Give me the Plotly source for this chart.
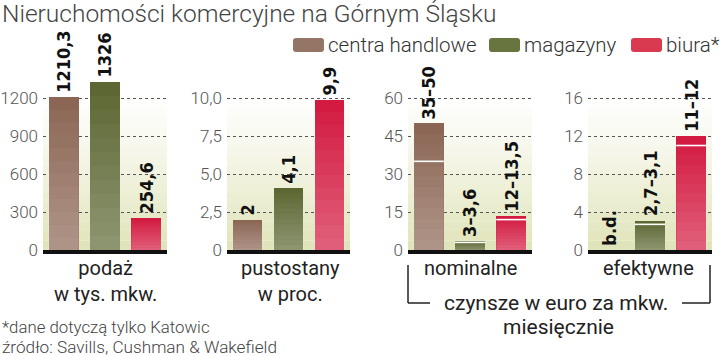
import plotly.graph_objects as go

W, H = 720, 356

# ---------------- data ----------------
series = ["centra handlowe", "magazyny", "biura*"]
series_colors = ["#8b6553", "#5b6631", "#d3183f"]
legend_colors = ["#957565", "#68753f", "#d93a50"]

supply = [1210.3, 1326, 254.6]
supply_labels = ["1210,3", "1326", "254,6"]

vacancy = [2, 4.1, 9.9]
vacancy_labels = ["2", "4,1", "9,9"]

nominal_low = [35, 3, 12]
nominal_high = [50, 3.6, 13.5]
nominal_labels = ["35–50", "3–3,6", "12–13,5"]

effective_low = [None, 2.7, 11]
effective_high = [None, 3.1, 12]
effective_labels = ["b.d.", "2,7–3,1", "11–12"]

panel_titles = ["podaż<br>w tys. mkw.", "pustostany<br>w proc.", "nominalne", "efektywne"]
rent_caption = "czynsze w euro za mkw."
rent_caption2 = "miesięcznie"

ticks1 = [0, 300, 600, 900, 1200]
ticks1_text = ["0", "300", "600", "900", "1200"]
ticks2 = [0, 2.5, 5, 7.5, 10]
ticks2_text = ["0", "2,5", "5,0", "7,5", "10,0"]
ticks3 = [0, 15, 30, 45, 60]
ticks3_text = ["0", "15", "30", "45", "60"]
ticks4 = [0, 4, 8, 12, 16]
ticks4_text = ["0", "4", "8", "12", "16"]

title = "Nieruchomości komercyjne na Górnym Śląsku"
footnote = "*dane dotyczą tylko Katowic"
source = "źródło: Savills, Cushman & Wakefield"

# ---------------- helpers ----------------
def px(x):
    return x / W

def py(y):
    return 1 - y / H

FONT = "Roboto"
BOLD = "DejaVu Sans Condensed, DejaVu Sans"

xdomains = [(43, 167), (227, 350), (408, 532), (588, 712)]
ydom = [py(250), py(60)]
yranges = [1500, 12.5, 75, 20]
tick_sets = [(ticks1, ticks1_text), (ticks2, ticks2_text), (ticks3, ticks3_text), (ticks4, ticks4_text)]
BARW = 0.73

fig = go.Figure()
pos = list(range(len(series)))

panels = [
    (supply, None, supply_labels),
    (vacancy, None, vacancy_labels),
    (nominal_high, nominal_low, nominal_labels),
    (effective_high, effective_low, effective_labels),
]

annotations = []
shapes = []

for k, (high, low, labels) in enumerate(panels):
    ax = "" if k == 0 else str(k + 1)
    xa, ya = "x" + ax, "y" + ax
    vals = [v if v is not None else 0 for v in high]
    fig.add_trace(go.Bar(
        x=pos, y=vals, width=BARW, marker=dict(color=series_colors, line=dict(width=0)),
        xaxis=xa, yaxis=ya, showlegend=False, hoverinfo="skip"))
    # subtle vertical sheen on each bar (lighter towards the base)
    nseg = 12
    for i, v in enumerate(vals):
        if v <= 0:
            continue
        for s in range(nseg):
            shapes.append(dict(type="rect", xref=xa, yref=ya,
                               x0=i - BARW / 2, x1=i + BARW / 2,
                               y0=v * s / nseg, y1=v * (s + 1) / nseg,
                               fillcolor="white", opacity=0.32 * (1 - (s + 0.5) / nseg),
                               line=dict(width=0), layer="above"))
    if low is not None:
        lx, ly = [], []
        for i, v in enumerate(low):
            if v is None:
                continue
            lx += [i - BARW / 2, i + BARW / 2, None]
            ly += [v, v, None]
        fig.add_trace(go.Scatter(x=lx, y=ly, mode="lines", line=dict(color="white", width=1.6),
                                 xaxis=xa, yaxis=ya, showlegend=False, hoverinfo="skip"))
    for i, (v, t) in enumerate(zip(vals, labels)):
        annotations.append(dict(
            x=i, y=v, xref=xa, yref=ya, text=t, textangle=-90, showarrow=False,
            xanchor="center", yanchor="bottom", yshift=2,
            font=dict(family=BOLD, size=18, color="#111", weight="bold")))

    tv, tt = tick_sets[k]
    fig.update_layout(**{
        "xaxis" + ax: dict(domain=[px(xdomains[k][0]), px(xdomains[k][1])], range=[-0.5, 2.5],
                           anchor=ya, showticklabels=False, showgrid=False, zeroline=False,
                           showline=True, linecolor="#111", linewidth=4, fixedrange=True,
                           automargin=False),
        "yaxis" + ax: dict(domain=ydom, range=[0, yranges[k]], anchor=xa,
                           tickvals=tv, ticktext=tt, showgrid=True, gridcolor="#555",
                           griddash="3px,3px", gridwidth=1.2, zeroline=False, showline=False,
                           ticklabelstandoff=4, automargin=False,
                           tickfont=dict(family=FONT, size=17, color="#555", weight=300),
                           fixedrange=True),
    })
    # background gradient
    nb = 16
    for b in range(nb):
        shapes.append(dict(type="rect", xref=xa + " domain", yref=ya + " domain",
                           x0=0, x1=1, y0=0.8 * b / nb, y1=0.8 * (b + 1) / nb,
                           fillcolor="#dde1b2", opacity=0.9 * (1 - b / nb) ** 1.2,
                           line=dict(width=0), layer="below"))

# panel titles
title_centers = [105, 290, 470, 648]
for cx, t in zip(title_centers, panel_titles):
    annotations.append(dict(x=px(cx), y=py(254), xref="paper", yref="paper", text=t,
                            showarrow=False, xanchor="center", yanchor="top",
                            font=dict(family=FONT, size=20, color="#222")))

# rent bracket
bc = "#222"
for (x0, y0, x1, y1) in [(408, 265, 408, 303), (408, 303, 430, 303), (682, 303, 710, 303), (710, 303, 710, 265)]:
    shapes.append(dict(type="line", xref="paper", yref="paper", x0=px(x0), y0=py(y0), x1=px(x1),
                       y1=py(y1), line=dict(color=bc, width=1.5)))
annotations.append(dict(x=px(556), y=py(303), xref="paper", yref="paper", text=rent_caption,
                        showarrow=False, xanchor="center", yanchor="middle",
                        font=dict(family=FONT, size=21, color="#222")))
annotations.append(dict(x=px(558), y=py(327), xref="paper", yref="paper", text=rent_caption2,
                        showarrow=False, xanchor="center", yanchor="middle",
                        font=dict(family=FONT, size=21, color="#222")))

# title and footnotes
annotations.append(dict(x=0, y=py(13), xref="paper", yref="paper", text=title, showarrow=False,
                        xanchor="left", yanchor="middle",
                        font=dict(family=FONT, size=24.5, color="#444", weight=300)))
annotations.append(dict(x=0, y=py(327), xref="paper", yref="paper", text=footnote, showarrow=False,
                        xanchor="left", yanchor="middle",
                        font=dict(family=FONT, size=16.8, color="#444", weight=300)))
annotations.append(dict(x=0, y=py(347), xref="paper", yref="paper", text=source, showarrow=False,
                        xanchor="left", yanchor="middle",
                        font=dict(family=FONT, size=17.2, color="#444", weight=300)))

# manual legend
leg_x = [293, 489, 631]
for x0, name, col in zip(leg_x, series, legend_colors):
    x1 = x0 + 31
    y0, y1 = 38, 52
    r = 3
    path = (f"M {px(x0 + r)} {py(y0)} L {px(x1 - r)} {py(y0)} Q {px(x1)} {py(y0)} {px(x1)} {py(y0 + r)} "
            f"L {px(x1)} {py(y1 - r)} Q {px(x1)} {py(y1)} {px(x1 - r)} {py(y1)} "
            f"L {px(x0 + r)} {py(y1)} Q {px(x0)} {py(y1)} {px(x0)} {py(y1 - r)} "
            f"L {px(x0)} {py(y0 + r)} Q {px(x0)} {py(y0)} {px(x0 + r)} {py(y0)} Z")
    shapes.append(dict(type="path", xref="paper", yref="paper", path=path, fillcolor=col,
                       line=dict(width=0)))
    annotations.append(dict(x=px(x1 + 2), y=py(45), xref="paper", yref="paper", text=name,
                            showarrow=False, xanchor="left", yanchor="middle",
                            font=dict(family=FONT, size=20.5, color="#333", weight=300)))

fig.update_layout(width=W, height=H, margin=dict(l=0, r=0, t=0, b=0, pad=0, autoexpand=False),
                  paper_bgcolor="white", plot_bgcolor="rgba(0,0,0,0)",
                  annotations=annotations, shapes=shapes, bargap=0)

fig.write_html("out.html", include_plotlyjs=True, config={"displayModeBar": False},
               post_script="document.body.style.margin='0';document.body.style.padding='0';")
